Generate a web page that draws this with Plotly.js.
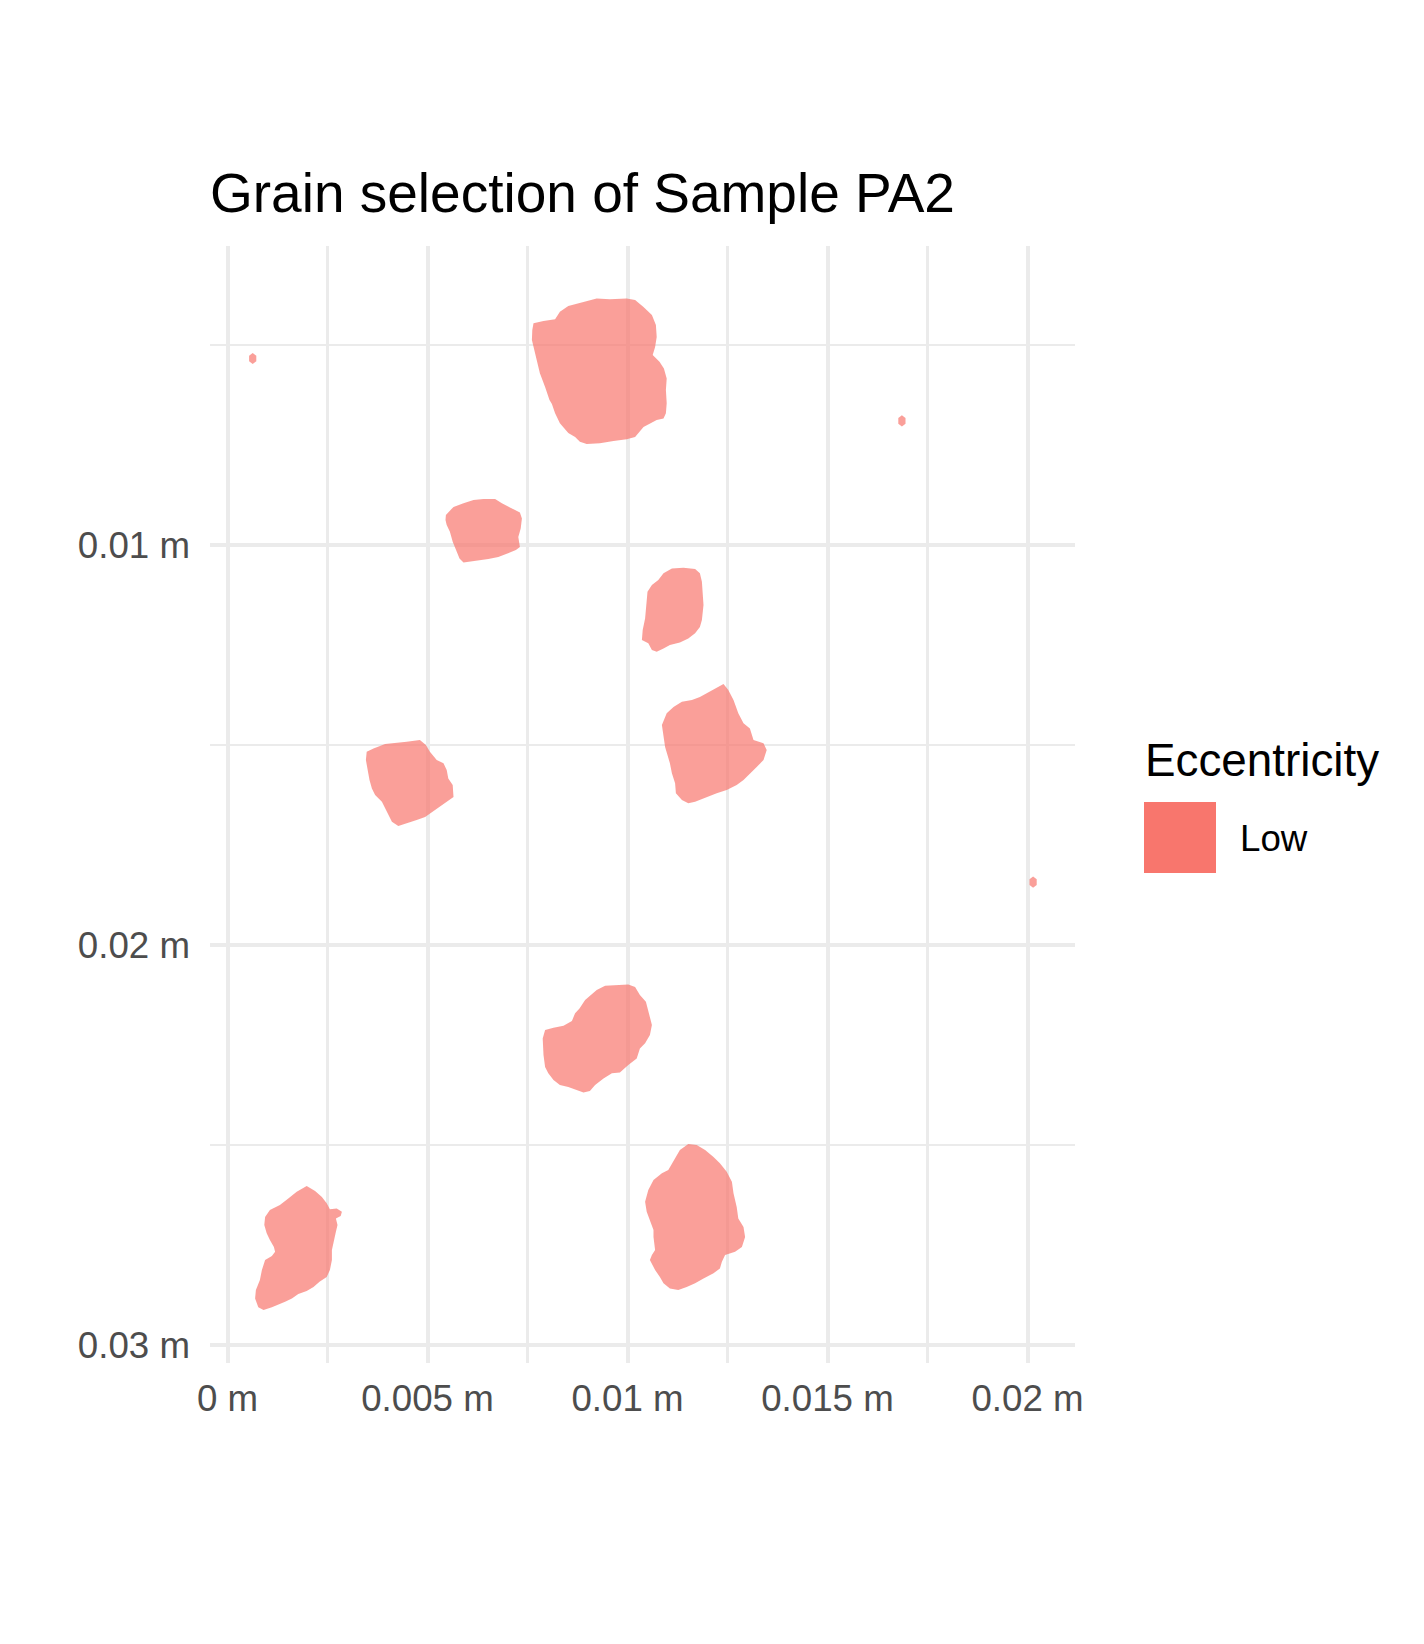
<!DOCTYPE html>
<html>
<head>
<meta charset="utf-8">
<script src="https://cdn.plot.ly/plotly-3.0.1.min.js"></script>
<style>html,body{margin:0;padding:0;background:#fff;}#chart{width:1424px;height:1644px;}</style>
</head>
<body>
<div id="chart"></div>
<script>
// ---- Data (grain outlines, in millimetres) ----
const grainA_x = [7.65,7.90,8.19,8.31,8.52,8.81,9.23,9.56,9.98,10.19,10.40,10.61,10.71,10.73,10.69,10.63,10.80,10.91,10.98,10.96,10.98,10.96,10.90,10.73,10.40,10.19,9.98,9.65,9.31,8.98,8.81,8.69,8.52,8.31,8.19,8.11,8.05,7.94,7.81,7.73,7.65,7.61,7.62];
const grainA_y = [4.45,4.39,4.35,4.16,4.02,3.95,3.83,3.85,3.83,3.87,4.04,4.24,4.49,4.79,5.04,5.24,5.41,5.58,5.83,6.12,6.45,6.70,6.83,6.87,7.04,7.29,7.35,7.39,7.45,7.47,7.41,7.29,7.19,6.95,6.70,6.47,6.37,6.04,5.70,5.37,5.08,4.87,4.62];

const grainB_x = [5.46,5.65,5.90,6.15,6.40,6.69,6.86,7.06,7.31,7.36,7.33,7.27,7.31,7.21,7.02,6.77,6.52,6.31,6.11,5.90,5.80,5.71,5.63,5.56,5.48,5.45];
const grainB_y = [9.24,9.04,8.95,8.87,8.84,8.84,8.95,9.06,9.18,9.33,9.58,9.79,10.04,10.12,10.20,10.29,10.34,10.37,10.41,10.43,10.33,10.12,9.91,9.66,9.49,9.37];

const grainC_x = [11.11,11.40,11.69,11.81,11.86,11.88,11.90,11.86,11.81,11.69,11.52,11.31,11.06,10.90,10.73,10.61,10.52,10.36,10.38,10.44,10.48,10.50,10.61,10.77,10.90];
const grainC_y = [10.58,10.56,10.59,10.70,10.91,11.16,11.49,11.87,12.04,12.20,12.33,12.43,12.49,12.58,12.66,12.62,12.45,12.37,12.12,11.83,11.49,11.16,10.99,10.87,10.70];

const grainD_x = [12.40,12.52,12.65,12.77,12.90,13.06,13.15,13.40,13.48,13.40,13.23,13.06,12.90,12.73,12.48,12.23,11.98,11.69,11.52,11.36,11.21,11.19,11.11,11.06,10.94,10.86,10.98,11.15,11.36,11.61,11.81,12.06];
const grainD_y = [13.47,13.62,13.87,14.20,14.45,14.58,14.87,14.95,15.12,15.37,15.54,15.70,15.87,15.99,16.12,16.20,16.29,16.41,16.45,16.37,16.20,15.95,15.70,15.45,15.04,14.49,14.20,14.04,13.91,13.87,13.79,13.66];

const grainE_x = [3.48,3.65,3.94,4.19,4.48,4.81,4.96,5.06,5.23,5.40,5.48,5.52,5.63,5.65,5.48,5.31,5.15,4.94,4.73,4.48,4.27,4.11,3.98,3.86,3.69,3.61,3.55,3.50,3.46];
const grainE_y = [15.16,15.08,14.97,14.95,14.91,14.87,14.99,15.16,15.37,15.45,15.62,15.83,15.99,16.29,16.41,16.52,16.62,16.79,16.87,16.95,17.02,16.91,16.66,16.41,16.24,16.08,15.87,15.62,15.37];

const grainF_x = [9.44,9.73,10.02,10.19,10.31,10.46,10.52,10.61,10.56,10.44,10.31,10.23,10.02,9.81,9.61,9.40,9.19,9.06,8.90,8.73,8.52,8.31,8.15,8.02,7.94,7.90,7.88,7.94,8.15,8.40,8.61,8.69,8.80,8.94,9.11,9.23];
const grainF_y = [21.01,20.99,20.98,21.04,21.24,21.41,21.66,21.99,22.24,22.45,22.58,22.83,22.99,23.18,23.20,23.33,23.49,23.64,23.68,23.62,23.54,23.49,23.37,23.20,23.04,22.74,22.33,22.12,22.06,22.01,21.89,21.70,21.58,21.37,21.23,21.12];

const grainG_x = [1.98,2.19,2.36,2.48,2.56,2.73,2.86,2.83,2.71,2.75,2.71,2.66,2.61,2.61,2.56,2.48,2.30,2.15,1.98,1.77,1.61,1.44,1.27,1.11,0.90,0.77,0.69,0.71,0.81,0.86,0.94,1.11,1.19,1.16,1.06,0.98,0.92,0.94,1.06,1.31,1.52,1.73];
const grainG_y = [26.02,26.14,26.29,26.45,26.60,26.58,26.66,26.77,26.83,26.99,27.16,27.37,27.62,27.87,28.12,28.29,28.41,28.54,28.64,28.72,28.83,28.91,28.99,29.05,29.12,29.05,28.83,28.62,28.37,28.12,27.87,27.77,27.66,27.54,27.37,27.20,26.99,26.79,26.62,26.49,26.33,26.16];

const grainH_x = [11.52,11.73,11.94,12.15,12.31,12.48,12.61,12.65,12.73,12.77,12.90,12.94,12.86,12.69,12.44,12.36,12.31,12.15,11.90,11.69,11.48,11.27,11.06,10.90,10.81,10.69,10.56,10.61,10.69,10.65,10.65,10.56,10.48,10.44,10.52,10.65,10.86,11.02,11.15,11.31];
const grainH_y = [24.97,24.99,25.12,25.29,25.45,25.66,25.91,26.20,26.54,26.83,27.04,27.29,27.54,27.66,27.74,27.91,28.08,28.20,28.33,28.45,28.54,28.62,28.58,28.45,28.29,28.12,27.87,27.74,27.62,27.29,27.12,26.87,26.66,26.41,26.12,25.87,25.70,25.62,25.41,25.12];

// tiny specks
const speck1_x = [0.54,0.63,0.72,0.72,0.63,0.54];
const speck1_y = [5.26,5.19,5.26,5.40,5.47,5.40];
const speck2_x = [16.77,16.86,16.95,16.95,16.86,16.77];
const speck2_y = [6.82,6.75,6.82,6.96,7.03,6.96];
const speck3_x = [20.05,20.14,20.23,20.23,20.14,20.05];
const speck3_y = [18.35,18.28,18.35,18.49,18.56,18.49];

const eccentricityClass = 'Low';

// ---- Axis ticks ----
const xTickVals = [0, 0.005, 0.01, 0.015, 0.02];
const xTickText = ['0 m', '0.005 m', '0.01 m', '0.015 m', '0.02 m'];
const xMinorVals = [0.0025, 0.0075, 0.0125, 0.0175];
const yTickVals = [0.01, 0.02, 0.03];
const yTickText = ['0.01 m', '0.02 m', '0.03 m'];
const yMinorVals = [0.005, 0.015, 0.025];

// ---- Build traces ----
const grains = [
  [grainA_x, grainA_y], [grainB_x, grainB_y], [grainC_x, grainC_y], [grainD_x, grainD_y],
  [grainE_x, grainE_y], [grainF_x, grainF_y], [grainG_x, grainG_y], [grainH_x, grainH_y],
  [speck1_x, speck1_y], [speck2_x, speck2_y], [speck3_x, speck3_y]
];
const fillColor = 'rgba(248,118,109,0.7)';
const traces = grains.map(([gx, gy]) => ({
  type: 'scatter',
  mode: 'lines',
  x: gx.concat([gx[0]]).map(v => v / 1000),
  y: gy.concat([gy[0]]).map(v => v / 1000),
  fill: 'toself',
  fillcolor: fillColor,
  line: {width: 0, color: fillColor},
  hoverinfo: 'skip',
  showlegend: false,
  legendgroup: eccentricityClass,
  name: eccentricityClass
}));

// ---- Layout geometry (pixels) ----
const W = 1424, H = 1644;
const mL = 210, mR = 349, mT = 246, mB = 281;
const pw = W - mL - mR, ph = H - mT - mB;
const px2paperX = X => (X - mL) / pw;
const px2paperY = Y => 1 - (Y - mT) / ph;

const font = '"Liberation Sans", Arial, Helvetica, sans-serif';

const layout = {
  width: W, height: H,
  margin: {l: mL, r: mR, t: mT, b: mB, pad: 0},
  paper_bgcolor: '#ffffff',
  plot_bgcolor: '#ffffff',
  showlegend: false,
  font: {family: font, color: '#000000'},
  title: {
    text: 'Grain selection of Sample PA2',
    font: {family: font, size: 55, color: '#000000'},
    xref: 'paper', x: 0, xanchor: 'left',
    yref: 'container', y: 1 - 193 / H, yanchor: 'middle'
  },
  xaxis: {
    range: [-0.0004375, 0.0211875],
    autorange: false,
    tickmode: 'array', tickvals: xTickVals, ticktext: xTickText,
    ticks: '', showline: false, zeroline: false,
    showgrid: true, gridcolor: '#EBEBEB', gridwidth: 4,
    minor: {tickmode: 'array', tickvals: xMinorVals, showgrid: true, gridcolor: '#EBEBEB', gridwidth: 2.2, ticks: ''},
    tickfont: {family: font, size: 36.7, color: '#4D4D4D'},
    ticklabelstandoff: 10,
    fixedrange: true
  },
  yaxis: {
    range: [0.0304425, 0.0025175],
    autorange: false,
    tickmode: 'array', tickvals: yTickVals, ticktext: yTickText,
    ticks: '', showline: false, zeroline: false,
    showgrid: true, gridcolor: '#EBEBEB', gridwidth: 4,
    minor: {tickmode: 'array', tickvals: yMinorVals, showgrid: true, gridcolor: '#EBEBEB', gridwidth: 2.2, ticks: ''},
    tickfont: {family: font, size: 36.7, color: '#4D4D4D'},
    ticklabelstandoff: 19,
    fixedrange: true
  },
  shapes: [{
    type: 'rect', xref: 'paper', yref: 'paper',
    x0: px2paperX(1144), x1: px2paperX(1216),
    y0: px2paperY(873), y1: px2paperY(802),
    fillcolor: '#F8766D', line: {width: 0}
  }],
  annotations: [
    {text: 'Eccentricity', xref: 'paper', yref: 'paper', x: px2paperX(1143), y: px2paperY(760),
     xanchor: 'left', yanchor: 'middle', showarrow: false,
     font: {family: font, size: 45.8, color: '#000000'}},
    {text: eccentricityClass, xref: 'paper', yref: 'paper', x: px2paperX(1238), y: px2paperY(838),
     xanchor: 'left', yanchor: 'middle', showarrow: false,
     font: {family: font, size: 36.7, color: '#000000'}}
  ]
};

Plotly.newPlot('chart', traces, layout, {staticPlot: true, displayModeBar: false});
</script>
</body>
</html>
